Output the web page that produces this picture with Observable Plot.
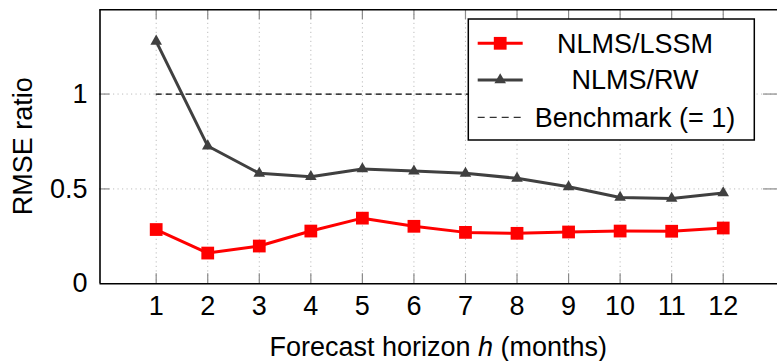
<!DOCTYPE html>
<html><head><meta charset="utf-8">
<script src="https://cdn.jsdelivr.net/npm/d3@7"></script>
<script src="https://cdn.jsdelivr.net/npm/@observablehq/plot@0.6"></script>
<style>body{margin:0;background:#fff;} svg{display:block}</style>
</head><body><div id="chart"></div>
<script>
// ---- data ----
const horizons = [1, 2, 3, 4, 5, 6, 7, 8, 9, 10, 11, 12];
const nlmsLssm = [0.286, 0.162, 0.199, 0.278, 0.346, 0.303, 0.271, 0.266, 0.273, 0.278, 0.277, 0.294];
const nlmsRw   = [1.278, 0.726, 0.582, 0.564, 0.605, 0.594, 0.582, 0.556, 0.511, 0.455, 0.450, 0.479];
const benchmark = 1;
const yTicks = [0, 0.5, 1];
const yTickLabels = ["0", "0.5", "1"];
const seriesNames = ["NLMS/LSSM", "NLMS/RW", "Benchmark (= 1)"];
const xLabelParts = ["Forecast horizon ", "h", " (months)"];
const yLabel = "RMSE ratio";

// ---- layout ----
const W = 777, H = 361;
const mL = 99.5, mR = 0, mT = 9.3, mB = 77.7;
const xDomain = [-0.09, 13.053], yDomain = [0, 1.444];
const red = "#ff0000", gray = "#404040";
const gridColor = "#bdbdbd", tickColor = "#8a8a8a";
const font = "'Liberation Sans', Arial, sans-serif";
const sqR = 7.2, triR = 4.3;

const rows = horizons.map((h, i) => ({h, lssm: nlmsLssm[i], rw: nlmsRw[i]}));
const yGrid = yTicks.filter(d => d > yDomain[0]);

const chart = Plot.plot({
  width: W, height: H,
  marginLeft: mL, marginRight: mR, marginTop: mT, marginBottom: mB,
  style: {fontFamily: font, fontSize: "27px", color: "#000", background: "#fff"},
  x: {domain: xDomain},
  y: {domain: yDomain},
  marks: [
    // grid
    Plot.ruleX(horizons, {x: d => d, stroke: gridColor, strokeWidth: 1, strokeDasharray: "1.2,3.3"}),
    Plot.ruleY(yGrid, {y: d => d, stroke: gridColor, strokeWidth: 1, strokeDasharray: "1.2,3.3"}),
    // inward tick marks
    Plot.ruleX(horizons, {x: d => d, y1: yDomain[0], y2: yDomain[0], insetTop: -10, stroke: tickColor, strokeWidth: 1.2}),
    Plot.ruleX(horizons, {x: d => d, y1: yDomain[1], y2: yDomain[1], insetBottom: -10, stroke: tickColor, strokeWidth: 1.2}),
    Plot.ruleY(yGrid, {y: d => d, x1: xDomain[0], x2: xDomain[0], insetRight: -10, stroke: tickColor, strokeWidth: 1.2}),
    Plot.ruleY(yGrid, {y: d => d, x1: xDomain[1], x2: xDomain[1], insetLeft: -14, stroke: tickColor, strokeWidth: 1.2}),
    // benchmark
    Plot.ruleY([benchmark], {y: d => d, x1: horizons[0], x2: horizons[horizons.length - 1], stroke: "#000", strokeWidth: 1.2, strokeDasharray: "6,4"}),
    // series
    Plot.line(rows, {x: "h", y: "rw", stroke: gray, strokeWidth: 3}),
    Plot.dot(rows, {x: "h", y: "rw", symbol: "triangle", r: triR, fill: gray, stroke: "none"}),
    Plot.line(rows, {x: "h", y: "lssm", stroke: red, strokeWidth: 3}),
    Plot.dot(rows, {x: "h", y: "lssm", symbol: "square", r: sqR, fill: red, stroke: "none"}),
    // frame (left, bottom, top)
    Plot.ruleX([xDomain[0]], {x: d => d, stroke: "#000", strokeWidth: 1.6}),
    Plot.ruleY([yDomain[0], yDomain[1]], {y: d => d, stroke: "#000", strokeWidth: 1.6}),
    // axes
    Plot.axisY(yTicks, {tickSize: 0, tickPadding: 12.5, label: null, fontSize: 27,
      tickFormat: d => yTickLabels[yTicks.indexOf(d)]}),
    Plot.axisX(horizons, {tickSize: 0, tickPadding: 12, label: null, fontSize: 27, tickFormat: d => String(d)})
  ]
});
document.getElementById("chart").appendChild(chart);

// ---- axis titles & legend ----
const svg = d3.select(chart);
const xl = svg.append("text").attr("x", (mL + W - mR) / 2).attr("y", 355.5)
  .attr("text-anchor", "middle").attr("font-family", font).attr("font-size", 27).attr("fill", "#000");
xl.append("tspan").text(xLabelParts[0]);
xl.append("tspan").attr("font-style", "italic").text(xLabelParts[1]);
xl.append("tspan").text(xLabelParts[2]);

svg.append("text").attr("transform", `translate(31.5,${(mT + H - mB) / 2}) rotate(-90)`)
  .attr("text-anchor", "middle").attr("font-family", font).attr("font-size", 27).attr("fill", "#000")
  .text(yLabel);

const lg = svg.append("g");
lg.append("rect").attr("x", 468.3).attr("y", 19).attr("width", 286).attr("height", 121)
  .attr("fill", "#fff").attr("stroke", "#000").attr("stroke-width", 1.5);
const entryY = [43.3, 80, 117.3];
const sx0 = 477.7, sx1 = 522.7, sxm = (sx0 + sx1) / 2;
// NLMS/LSSM
lg.append("line").attr("x1", sx0).attr("x2", sx1).attr("y1", entryY[0]).attr("y2", entryY[0]).attr("stroke", red).attr("stroke-width", 3);
lg.append("path").attr("transform", `translate(${sxm},${entryY[0]})`).attr("d", d3.symbol(d3.symbolSquare, Math.PI * sqR * sqR)()).attr("fill", red);
// NLMS/RW
lg.append("line").attr("x1", sx0).attr("x2", sx1).attr("y1", entryY[1]).attr("y2", entryY[1]).attr("stroke", gray).attr("stroke-width", 3);
lg.append("path").attr("transform", `translate(${sxm},${entryY[1]})`).attr("d", d3.symbol(d3.symbolTriangle, Math.PI * triR * triR)()).attr("fill", gray);
// Benchmark
lg.append("line").attr("x1", sx0).attr("x2", sx1 - 2).attr("y1", entryY[2]).attr("y2", entryY[2]).attr("stroke", "#000").attr("stroke-width", 1).attr("stroke-dasharray", "7,5");
seriesNames.forEach((name, i) => {
  lg.append("text").attr("x", 635).attr("y", entryY[i]).attr("dy", "0.35em")
    .attr("text-anchor", "middle").attr("font-family", font).attr("font-size", 27).attr("fill", "#000")
    .text(name);
});
</script>
</body></html>
